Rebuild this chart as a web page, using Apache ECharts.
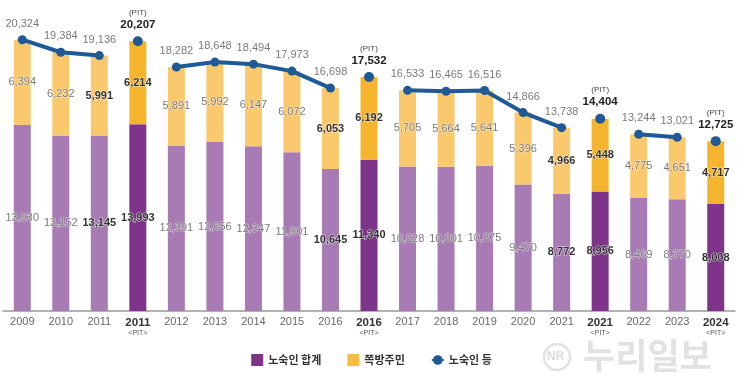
<!DOCTYPE html>
<html><head><meta charset="utf-8">
<script src="https://cdn.jsdelivr.net/npm/echarts@6/dist/echarts.min.js"></script>
<style>html,body{margin:0;padding:0;background:#fff}#c{width:743px;height:391px}</style>
</head><body><div id="c"></div>
<script>
const categories = ['2009','2010','2011','2011<PIT>','2012','2013','2014','2015','2016','2016<PIT>','2017','2018','2019','2020','2021','2021<PIT>','2022','2023','2024<PIT>'];
const homeless = [13930,13152,13145,13993,12391,12656,12347,11901,10645,11340,10828,10801,10875,9470,8772,8956,8469,8370,8008];
const jjokbang = [6394,6232,5991,6214,5891,5992,6147,6072,6053,6192,5705,5664,5641,5396,4966,5448,4775,4651,4717];
const total = [20324,19384,19136,20207,18282,18648,18494,17973,16698,17532,16533,16465,16516,14866,13738,14404,13244,13021,12725];
const boldIdx = [2,3,8,9,14,15,18];

const isPit = categories.map(c => c.indexOf('PIT') >= 0);
const fmt = v => v.toLocaleString('en-US');
const FONT = 'Liberation Sans, Noto Sans CJK KR, sans-serif';

const normLabel = {color:'#7a7a7a', textBorderColor:'rgba(255,255,255,0.55)', textBorderWidth:1.2, fontWeight:'normal'};
const boldLabel = {color:'#333', textBorderColor:'rgba(255,255,255,0.7)', textBorderWidth:1.2, fontWeight:'bold'};

function barData(vals, light, dark) {
  return vals.map((v, i) => ({
    value: v,
    itemStyle: {color: isPit[i] ? dark : light},
    label: Object.assign({}, boldIdx.includes(i) ? boldLabel : normLabel)
  }));
}

const lineRegular = total.map((v, i) => isPit[i] ? null : v);
const linePit = total.map((v, i) => isPit[i] ? v : null);

const chart = echarts.init(document.getElementById('c'));
chart.setOption({
  animation: false,
  textStyle: {fontFamily: FONT},
  grid: {left: 3, right: 8, top: 4, bottom: 80},
  legend: {
    top: 349, left: 'center', itemGap: 26, itemWidth: 12, itemHeight: 12,
    textStyle: {fontSize: 11, color: '#333', fontWeight: 'bold', fontFamily: 'Noto Sans CJK KR'},
    data: [
      {name: '노숙인 합계', icon: 'rect', itemStyle: {color: '#7e3589'}},
      {name: '쪽방주민', icon: 'rect', itemStyle: {color: '#f6bd45'}},
      {name: '노숙인 등', itemStyle: {color: '#1f5a96'}}
    ]
  },
  xAxis: {
    type: 'category', data: categories,
    axisLine: {lineStyle: {color: '#999', width: 1.5}},
    axisTick: {show: false},
    axisLabel: {
      margin: 5, interval: 0, color: '#666', fontSize: 11,
      formatter: c => c.indexOf('PIT') >= 0 ? '{b|' + c.replace('<PIT>', '') + '}\n{p|<PIT>}' : c,
      rich: {
        b: {fontWeight: 'bold', color: '#333', fontSize: 11.5, lineHeight: 13},
        p: {fontSize: 7, color: '#555', lineHeight: 9}
      }
    }
  },
  yAxis: {type: 'value', min: 0, max: 23000, show: false, splitLine: {show: false}},
  series: [
    {
      name: '노숙인 합계', type: 'bar', stack: 's', barWidth: 17,
      data: barData(homeless, '#a97bb5', '#7e3589'),
      label: {show: true, position: 'inside', fontSize: 11, formatter: p => fmt(p.value)}
    },
    {
      name: '쪽방주민', type: 'bar', stack: 's', barWidth: 17,
      data: barData(jjokbang, '#fac96d', '#f4b42e'),
      label: {show: true, position: 'inside', fontSize: 11, formatter: p => fmt(p.value)}
    },
    {
      name: '노숙인 등', type: 'line', data: lineRegular, connectNulls: false,
      symbol: 'circle', symbolSize: 9, showSymbol: true,
      lineStyle: {color: '#1f5a96', width: 4},
      itemStyle: {color: '#1f5a96'},
      label: {show: true, position: 'top', distance: 6, fontSize: 11, color: '#7a7a7a',
        textBorderColor: 'rgba(255,255,255,0.6)', textBorderWidth: 1,
        formatter: p => fmt(p.value)}
    },
    {
      name: '노숙인 등', type: 'line', data: linePit, connectNulls: false,
      symbol: 'circle', symbolSize: 10, showSymbol: true,
      lineStyle: {color: '#1f5a96', width: 4},
      itemStyle: {color: '#1f5a96'},
      label: {show: true, position: 'top', distance: 5,
        formatter: p => '{p|(PIT)}\n{v|' + fmt(p.value) + '}',
        rich: {p: {fontSize: 8, color: '#444', lineHeight: 11}, v: {fontSize: 11.5, fontWeight: 'bold', color: '#222', lineHeight: 13}}}
    }
  ],
  graphic: [
    {type: 'circle', shape: {cx: 557, cy: 357, r: 13}, style: {fill: 'none', stroke: '#e2e2e2', lineWidth: 2.5}, silent: true},
    {type: 'text', left: 547, top: 351, style: {text: 'NR', fill: '#dcdcdc', fontSize: 12, fontWeight: 'bold', fontFamily: FONT}, silent: true},
    {type: 'text', left: 583, top: 338, style: {text: '누리일보', fill: '#e2e2e2', fontSize: 35, fontWeight: 'bold', fontFamily: 'Noto Sans CJK KR'}, silent: true}
  ]
});
</script></body></html>
